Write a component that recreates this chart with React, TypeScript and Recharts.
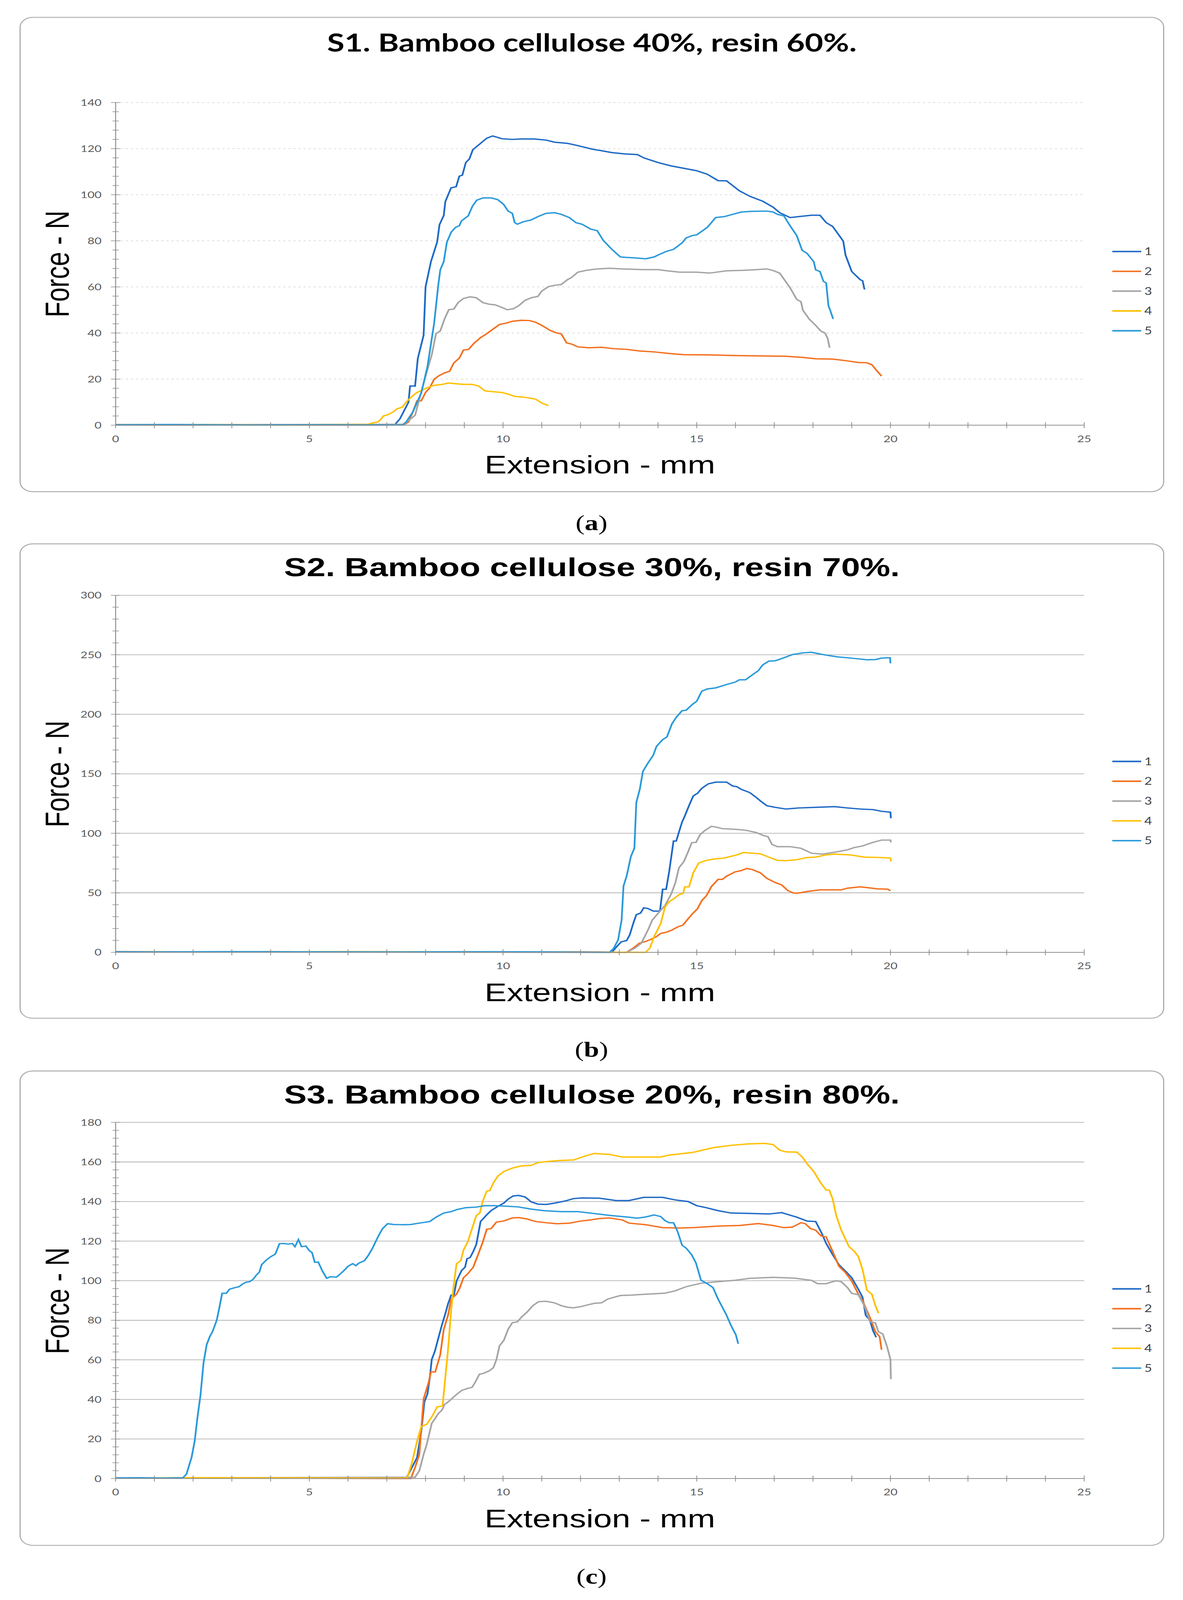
import React from "react";
import { Legend, Line, LineChart, ReferenceLine, XAxis, YAxis } from "recharts";

type Pt = [number, number];

// extension (mm), force (N)
const s1a: Pt[] = [
  [0, 0.2], [2, 0.1], [4, 0.2], [6, 0.1], [7.2, 0.1], [7.34, 2.8], [7.56, 10], [7.6, 17], [7.73, 17], [7.8, 29],
  [7.95, 39], [8.0, 60], [8.14, 71], [8.3, 79.5], [8.36, 87], [8.47, 91], [8.51, 97], [8.66, 103], [8.79, 103.5],
  [8.87, 108], [8.95, 108.5], [9.04, 114], [9.13, 115.5], [9.22, 119.5], [9.4, 122], [9.58, 124.5], [9.73, 125.5],
  [9.83, 125], [9.97, 124.3], [10.24, 124], [10.46, 124.2], [10.8, 124.2], [11.11, 123.7], [11.33, 122.8],
  [11.66, 122.3], [11.88, 121.5], [12.1, 120.6], [12.32, 119.7], [12.54, 119.1], [12.8, 118.3], [13.14, 117.7],
  [13.47, 117.4], [13.63, 116], [14.01, 113.9], [14.34, 112.5], [14.62, 111.6], [15.0, 110.4], [15.27, 108.9],
  [15.55, 106.1], [15.77, 106], [16.1, 101.7], [16.37, 99.3], [16.7, 97.2], [16.97, 94.6], [17.14, 92.2],
  [17.41, 90.1], [17.63, 90.5], [17.96, 91.1], [18.18, 91.1], [18.34, 87.9], [18.51, 86.2], [18.78, 79.9],
  [18.84, 73.8], [19.0, 66.7], [19.22, 63.1], [19.28, 62.7], [19.33, 58.9],
];
const s2a: Pt[] = [
  [0, 0.3], [1, 0.1], [3, 0.2], [5, 0.1], [7.45, 0.2], [7.56, 1.4], [7.67, 5.7], [7.78, 10.6], [7.89, 10.6],
  [8.0, 14.2], [8.11, 16.3], [8.22, 19.9], [8.33, 21.3], [8.49, 22.7], [8.62, 23.4], [8.73, 27], [8.87, 29.1],
  [8.98, 32.6], [9.11, 32.9], [9.26, 35.7], [9.42, 38], [9.58, 39.7], [9.75, 41.8], [9.91, 43.7], [10.08, 44.3],
  [10.24, 45.1], [10.46, 45.5], [10.68, 45.4], [10.84, 44.7], [11.0, 43.3], [11.22, 41.1], [11.39, 40],
  [11.5, 39.7], [11.64, 35.7], [11.77, 35.2], [11.93, 34], [12.21, 33.6], [12.54, 33.8], [12.86, 33.2],
  [13.19, 32.9], [13.52, 32.2], [13.9, 31.8], [14.29, 31.1], [14.67, 30.6], [15.33, 30.5], [15.99, 30.2],
  [16.54, 30.1], [17.3, 29.9], [17.74, 29.4], [18.07, 28.8], [18.51, 28.7], [18.89, 27.9], [19.17, 27.2],
  [19.39, 27.1], [19.52, 26.2], [19.66, 23.4], [19.77, 21.3],
];
const s3a: Pt[] = [
  [0, 0.1], [7.45, 0.4], [7.56, 2], [7.73, 4.3], [7.84, 11.3], [8.0, 21.3], [8.16, 30.5], [8.27, 39.7],
  [8.38, 40.9], [8.49, 46.1], [8.6, 50.1], [8.73, 50.4], [8.84, 53.2], [8.98, 55], [9.15, 55.7], [9.31, 55.3],
  [9.48, 53.2], [9.64, 52.5], [9.8, 52.2], [9.97, 51.1], [10.11, 50.1], [10.26, 50.5], [10.4, 51.8], [10.57, 54.2],
  [10.73, 55.3], [10.9, 55.9], [11.0, 58.2], [11.17, 60.1], [11.33, 60.7], [11.5, 61], [11.66, 63.1], [11.77, 64.1],
  [11.93, 66.4], [12.15, 67.2], [12.43, 67.8], [12.75, 68.1], [13.08, 67.8], [13.63, 67.5], [14.01, 67.5],
  [14.23, 67], [14.56, 66.4], [15.0, 66.4], [15.33, 66], [15.77, 67], [16.21, 67.2], [16.54, 67.5], [16.81, 67.8],
  [16.97, 67.1], [17.14, 66], [17.28, 62.7], [17.41, 59.6], [17.58, 54.6], [17.69, 53.6], [17.74, 49.9],
  [17.9, 46.1], [18.07, 43.3], [18.2, 40.9], [18.31, 40], [18.38, 37.6], [18.43, 33.6],
];
const s4a: Pt[] = [
  [0, 0.2], [2, 0.3], [4, 0.1], [6.52, 0.4], [6.63, 1], [6.77, 1.4], [6.85, 2.6], [6.91, 4], [7.02, 4.5],
  [7.16, 5.7], [7.26, 7.1], [7.4, 7.8], [7.51, 10.2], [7.67, 12.8], [7.78, 14.2], [7.92, 15.3], [8.05, 16.3],
  [8.22, 17.3], [8.44, 17.7], [8.58, 18.3], [8.77, 18], [8.98, 17.7], [9.2, 17.7], [9.37, 17], [9.53, 14.9],
  [9.69, 14.6], [9.97, 14.2], [10.13, 13.5], [10.3, 12.5], [10.57, 12.1], [10.84, 11.3], [11.0, 9.6], [11.17, 8.5],
];
const s5a: Pt[] = [
  [0, 0.2], [1.5, 0.3], [3.5, 0.1], [5.5, 0.2], [7.4, 0.1], [7.5, 1.4], [7.67, 5.7], [7.89, 14], [8.05, 25.5],
  [8.22, 44], [8.33, 61], [8.38, 67.4], [8.47, 71], [8.55, 79.4], [8.66, 83.7], [8.77, 85.8], [8.87, 86.5],
  [8.93, 88.7], [9.1, 90.8], [9.21, 95], [9.32, 97.6], [9.48, 98.6], [9.7, 98.6], [9.86, 97.9], [10.02, 95.7],
  [10.13, 92.9], [10.24, 91.9], [10.3, 87.9], [10.37, 87.2], [10.51, 88.2], [10.73, 89.1], [10.9, 90.5],
  [11.11, 91.9], [11.33, 92.2], [11.5, 91.5], [11.71, 90.1], [11.88, 87.9], [12.04, 87.2], [12.26, 85.1],
  [12.43, 84.4], [12.59, 80.1], [12.81, 76.3], [13.03, 73], [13.19, 72.8], [13.41, 72.6], [13.68, 72.2],
  [13.9, 73], [14.01, 73.9], [14.23, 75.5], [14.4, 76.3], [14.62, 79.1], [14.73, 81.3], [14.89, 82.3], [15.0, 82.6],
  [15.27, 85.8], [15.49, 90.1], [15.71, 90.5], [15.93, 91.5], [16.15, 92.5], [16.43, 92.8], [16.81, 92.9],
  [16.97, 92.5], [17.08, 91.5], [17.25, 90.8], [17.41, 86.5], [17.58, 82.3], [17.72, 75.9], [17.85, 74.5],
  [18.02, 70.9], [18.07, 67.4], [18.18, 66.7], [18.27, 62.4], [18.34, 61.7], [18.4, 51.8], [18.45, 49.6],
  [18.52, 46.1],
];

const s1b: Pt[] = [
  [0, 0.4], [2, 0.2], [4, 0.5], [6, 0.3], [8, 0.4], [10, 0.2], [12.81, 0], [12.94, 5], [13.05, 8.8], [13.19, 9.9],
  [13.27, 14.6], [13.36, 24.2], [13.44, 31.6], [13.55, 33], [13.63, 37.4], [13.74, 36.8], [13.88, 34.6],
  [14.05, 34.6], [14.12, 53], [14.21, 53], [14.29, 68.2], [14.4, 93.5], [14.47, 93.5], [14.62, 109.4],
  [14.69, 114.4], [14.8, 123.2], [14.91, 131.4], [15.02, 133.6], [15.13, 137.8], [15.3, 141.6], [15.49, 143],
  [15.77, 143], [15.93, 139.7], [16.04, 139.1], [16.15, 136.9], [16.37, 134.2], [16.54, 130], [16.67, 126.5],
  [16.81, 123.2], [17.03, 121.8], [17.3, 120.4], [17.63, 121.3], [18.07, 121.8], [18.56, 122.4], [18.89, 121.3],
  [19.22, 120.4], [19.55, 119.9], [19.77, 118.5], [20.0, 117.7], [20.01, 112.7],
];
const s2b: Pt[] = [
  [0, 0.6], [3, 0.3], [6, 0.5], [9, 0.3], [12, 0.4], [13.19, 0], [13.36, 3.6], [13.52, 7.7], [13.68, 9.1],
  [13.82, 11], [13.96, 13.2], [14.07, 15.9], [14.23, 17], [14.36, 18.7], [14.51, 21.4], [14.64, 22.8],
  [14.78, 28.3], [14.89, 32.4], [15.02, 36.6], [15.13, 43.4], [15.25, 47.6], [15.38, 55.3], [15.55, 61.3],
  [15.66, 61.3], [15.77, 64], [15.99, 67.6], [16.15, 68.7], [16.29, 70.4], [16.43, 69.6], [16.64, 66.8],
  [16.81, 62.1], [17.03, 58.6], [17.19, 56.6], [17.36, 51.7], [17.5, 49.8], [17.63, 49.8], [17.85, 51.1],
  [18.18, 52.5], [18.73, 52.5], [18.89, 53.9], [19.22, 55], [19.44, 54.2], [19.66, 53.3], [19.93, 53.1],
  [20.0, 51.7],
];
const s3b: Pt[] = [
  [0, 0.3], [13.19, 0], [13.41, 3.6], [13.57, 7.7], [13.74, 18.7], [13.85, 27], [13.99, 32.4], [14.18, 39.3],
  [14.34, 49], [14.45, 58.6], [14.54, 71], [14.67, 76.4], [14.78, 84.7], [14.87, 92.1], [14.98, 92.4], [15.09, 99],
  [15.22, 102.6], [15.38, 105.9], [15.49, 105.3], [15.66, 103.9], [15.99, 103.4], [16.26, 102.6], [16.54, 100.6],
  [16.7, 98.4], [16.84, 97.1], [16.94, 90.7], [17.08, 88.8], [17.41, 88.8], [17.69, 87.4], [17.96, 83.3],
  [18.23, 82.5], [18.56, 84.1], [18.89, 86.1], [19.06, 88], [19.28, 89.4], [19.55, 92.4], [19.77, 94.3],
  [20.0, 94.3], [20.01, 92.4],
];
const s4b: Pt[] = [
  [0, 0.3], [5, 0.5], [10, 0.4], [13.68, 0], [13.79, 3.6], [13.9, 13.2], [14.07, 24.2], [14.18, 38], [14.29, 42.6],
  [14.4, 44.8], [14.54, 48.4], [14.65, 49.5], [14.69, 55], [14.8, 55], [14.91, 66.8], [15.05, 75], [15.22, 77],
  [15.44, 78.4], [15.71, 79.2], [15.88, 80.6], [16.04, 81.9], [16.21, 83.9], [16.43, 83.3], [16.64, 82.8],
  [16.86, 80], [17.08, 77.3], [17.3, 77], [17.58, 77.8], [17.85, 79.7], [18.07, 80], [18.34, 81.9], [18.56, 82.5],
  [18.95, 81.9], [19.33, 80], [19.71, 79.7], [20.0, 79.2], [20.01, 76.4],
];
const s5b: Pt[] = [
  [0, 0.5], [1, 0.3], [3, 0.6], [5, 0.4], [7, 0.3], [9, 0.5], [11, 0.4], [12.75, 0], [12.86, 3.6], [12.97, 10.4],
  [13.06, 27], [13.11, 55.8], [13.19, 64], [13.3, 80.6], [13.39, 87.4], [13.44, 126], [13.53, 137], [13.61, 152],
  [13.74, 159], [13.88, 165.8], [13.96, 173], [14.12, 178.7], [14.23, 181], [14.36, 192], [14.47, 197.4],
  [14.62, 203], [14.73, 203.5], [14.89, 208.4], [15.0, 211], [15.13, 219.4], [15.27, 221.3], [15.49, 222.2],
  [15.77, 225], [15.99, 227], [16.1, 229], [16.26, 229], [16.43, 233], [16.59, 236.7], [16.7, 241.4],
  [16.86, 244.7], [17.03, 245], [17.25, 247.5], [17.47, 250.2], [17.74, 251.6], [17.96, 252.1], [18.13, 251],
  [18.34, 249.7], [18.62, 248.3], [18.89, 247.5], [19.17, 246.6], [19.39, 245.8], [19.61, 246], [19.77, 247.2],
  [19.99, 247.5], [20.0, 242.8],
];

const s1c: Pt[] = [
  [0, 0.2], [3, 0.3], [6, 0.2], [7.5, 0.2], [7.56, 2.3], [7.67, 6.4], [7.78, 10.6], [7.89, 23.8], [7.97, 38.7],
  [8.05, 42.8], [8.11, 51], [8.16, 60.2], [8.24, 64.3], [8.33, 70.9], [8.42, 77.5], [8.51, 83.3], [8.58, 88.3],
  [8.66, 92.7], [8.73, 92.4], [8.8, 99.8], [8.93, 105.1], [9.02, 106.8], [9.07, 111.1], [9.15, 111.7],
  [9.23, 114.7], [9.31, 118.3], [9.42, 129.9], [9.56, 132.9], [9.69, 135.4], [9.86, 137.5], [10.02, 139.2],
  [10.13, 141.2], [10.26, 142.8], [10.4, 143.1], [10.57, 142.3], [10.73, 139.8], [10.9, 138.7], [11.11, 138.5],
  [11.33, 139.2], [11.61, 140.3], [11.82, 141.5], [12.04, 141.8], [12.48, 141.7], [12.92, 140.5], [13.25, 140.5],
  [13.63, 142.1], [14.12, 142.1], [14.45, 140.8], [14.78, 140], [15.0, 137.9], [15.22, 137], [15.55, 135.4],
  [15.88, 134.2], [16.32, 134], [16.86, 133.7], [17.19, 134.4], [17.36, 133.4], [17.58, 132.1], [17.85, 130.1],
  [18.07, 129.9], [18.23, 123.8], [18.34, 118.8], [18.51, 113.1], [18.67, 108.1], [18.84, 104.8], [19.0, 101.5],
  [19.17, 95.7], [19.28, 91.6], [19.36, 82.5], [19.47, 80], [19.55, 74.7], [19.63, 71.4],
];
const s2c: Pt[] = [
  [0, 0.3], [4, 0.2], [7.62, 0], [7.73, 5.6], [7.84, 12.2], [7.95, 40.3], [8.08, 48.6], [8.14, 53.9],
  [8.25, 53.9], [8.38, 62.6], [8.47, 75.4], [8.58, 82.5], [8.66, 90.7], [8.8, 93.2], [8.88, 96.2], [8.98, 101.5],
  [9.09, 103.5], [9.23, 106.8], [9.37, 113.9], [9.48, 119.7], [9.58, 126], [9.69, 126.3], [9.83, 129.6],
  [10.02, 130.2], [10.24, 131.7], [10.4, 131.9], [10.62, 131.2], [10.84, 129.9], [11.11, 129.3], [11.39, 128.8],
  [11.72, 129.1], [11.99, 130.1], [12.26, 130.7], [12.48, 131.4], [12.75, 131.7], [13.08, 130.7], [13.25, 129.1],
  [13.68, 128.3], [14.12, 126.8], [14.56, 126.6], [15.0, 126.9], [15.55, 127.6], [16.1, 127.9], [16.59, 128.9],
  [16.97, 127.9], [17.25, 126.8], [17.47, 127.1], [17.69, 129.3], [17.8, 128.8], [17.94, 126.3], [18.07, 125.5],
  [18.21, 122.6], [18.34, 122.1], [18.51, 114.7], [18.67, 107.3], [18.84, 104], [19.0, 99.8], [19.17, 93.2],
  [19.28, 89.9], [19.39, 85], [19.5, 80], [19.61, 74.2], [19.72, 71.7], [19.77, 65.1],
];
const s3c: Pt[] = [
  [0, 0.2], [7.73, 0.7], [7.84, 4], [7.95, 12.2], [8.03, 17.2], [8.11, 23.8], [8.16, 27.9], [8.25, 30.4],
  [8.33, 32.9], [8.42, 34.5], [8.49, 37.4], [8.6, 39], [8.77, 42], [8.93, 44.5], [9.09, 45.6], [9.2, 46.1],
  [9.28, 48.6], [9.39, 52.7], [9.5, 53.2], [9.64, 54.4], [9.75, 56], [9.83, 60.2], [9.91, 67.1], [10.02, 69.8],
  [10.13, 75.4], [10.24, 78.8], [10.37, 79.2], [10.48, 81.7], [10.62, 84.1], [10.77, 87.4], [10.92, 89.4],
  [11.11, 89.6], [11.33, 88.8], [11.5, 87.4], [11.66, 86.6], [11.82, 86.3], [12.01, 86.9], [12.21, 87.9],
  [12.37, 88.6], [12.54, 88.8], [12.7, 90.7], [12.86, 91.6], [13.03, 92.5], [13.3, 92.7], [13.63, 93.1],
  [14.18, 93.7], [14.45, 94.9], [14.73, 97], [15.11, 98.7], [15.55, 99.5], [15.99, 100.2], [16.37, 101.2],
  [16.97, 101.7], [17.52, 101.3], [17.96, 100.2], [18.12, 98.5], [18.34, 98.5], [18.6, 100], [18.73, 99.5],
  [18.89, 96.5], [19.0, 93.6], [19.17, 92.9], [19.3, 88.3], [19.39, 84.1], [19.47, 79.2], [19.61, 78.7],
  [19.69, 74.2], [19.8, 73.1], [19.91, 66.8], [20.0, 60.2], [20.01, 50.2],
];
const s4c: Pt[] = [
  [0, 0.2], [2, 0.4], [5, 0.3], [7.45, 0.2], [7.53, 0.7], [7.64, 7.3], [7.78, 18.8], [7.89, 26.3], [8.03, 27.4],
  [8.19, 32.1], [8.3, 36.2], [8.44, 36.7], [8.51, 51.1], [8.58, 65.1], [8.66, 85], [8.73, 98.2], [8.8, 108.6],
  [8.91, 110.1], [8.98, 115.5], [9.09, 119.7], [9.2, 126.3], [9.31, 132.9], [9.4, 134.2], [9.48, 140.3],
  [9.58, 145.3], [9.66, 145.6], [9.75, 149.4], [9.86, 152.7], [10.02, 155.2], [10.24, 156.9], [10.46, 158],
  [10.73, 158.3], [10.9, 159.7], [11.17, 160.3], [11.44, 160.7], [11.82, 161], [11.98, 162.1], [12.2, 163.5],
  [12.37, 164.3], [12.75, 163.8], [13.08, 162.5], [14.07, 162.5], [14.29, 163.5], [14.89, 164.8], [15.22, 166.3],
  [15.44, 167.3], [15.88, 168.4], [16.32, 169.1], [16.75, 169.4], [16.97, 168.8], [17.14, 166], [17.3, 165.1],
  [17.58, 165], [17.72, 162.6], [17.85, 159], [18.02, 155.2], [18.2, 149.4], [18.34, 145.8], [18.42, 145.8],
  [18.51, 141.2], [18.6, 132.9], [18.73, 125.5], [18.93, 117.2], [19.06, 115], [19.17, 112.2], [19.28, 105.6],
  [19.39, 95.2], [19.52, 93.2], [19.61, 87.4], [19.69, 83.6],
];
const s5c: Pt[] = [
  [0, 0.3], [0.6, 0.4], [1.2, 0.2], [1.74, 0.4], [1.83, 2.3], [1.96, 10.6], [2.04, 18.8], [2.12, 32], [2.19, 42],
  [2.27, 58.5], [2.35, 67.6], [2.43, 71.7], [2.5, 74.2], [2.61, 80], [2.68, 86.6], [2.75, 93.6], [2.86, 93.7],
  [2.94, 95.7], [3.08, 96.5], [3.19, 97], [3.27, 98.2], [3.36, 99.2], [3.46, 99.5], [3.55, 100.7], [3.63, 102.8],
  [3.71, 104.3], [3.77, 108.1], [3.9, 110.6], [4.01, 112.2], [4.12, 113.4], [4.23, 118.7], [4.34, 118.8],
  [4.45, 118.5], [4.56, 118.8], [4.63, 117.2], [4.72, 120.8], [4.8, 117.2], [4.91, 117.5], [5.0, 115.2],
  [5.07, 114.2], [5.14, 109.3], [5.23, 109.4], [5.34, 104.8], [5.45, 101.2], [5.54, 102], [5.7, 101.8],
  [5.81, 103.6], [5.92, 105.6], [6.0, 107.3], [6.12, 108.6], [6.2, 107.6], [6.28, 108.9], [6.42, 110.1],
  [6.52, 112.7], [6.63, 116.4], [6.78, 122.5], [6.89, 126.3], [7.02, 128.8], [7.18, 128.4], [7.4, 128.3],
  [7.62, 128.4], [7.84, 129.1], [8.11, 129.9], [8.27, 132.1], [8.47, 134.2], [8.66, 134.9], [8.82, 136],
  [9.04, 136.9], [9.31, 137.2], [9.53, 137.9], [9.8, 137.9], [10.02, 137.7], [10.39, 137.3], [10.72, 136.2],
  [11.05, 135.4], [11.49, 134.9], [11.93, 134.9], [12.37, 133.9], [12.81, 132.9], [13.25, 132.1], [13.46, 131.6],
  [13.68, 132.2], [13.9, 133.2], [14.07, 132.4], [14.18, 130.4], [14.29, 129.3], [14.4, 129.3], [14.51, 124.6],
  [14.62, 118], [14.73, 116.4], [14.87, 113.1], [14.98, 108.9], [15.11, 100.2], [15.27, 98.5], [15.42, 96.5],
  [15.55, 90.7], [15.66, 86.6], [15.77, 82.5], [15.88, 77.5], [16.01, 72.6], [16.07, 68.1],
];

const seriesNames = ["1", "2", "3", "4", "5"];
const seriesColors = ["#1F6AC6", "#F4701F", "#A5A5A5", "#FFC000", "#2A9ADB"];
const xTicks = Array.from({ length: 26 }, (_, i) => i);

const TICK_FONT = "Lato, 'Noto Sans', sans-serif";
const ARIAL = "'Liberation Sans', Arial, sans-serif";
const AXIS_GREY = "#8F8F8F";

type PanelCfg = {
  title: string;
  titleFont: string;
  titleSize: number;
  titleY: number;
  label: string;
  top: number;
  plotTop: number;
  plotBottom: number;
  yMax: number;
  yMajor: number;
  yMinor: number;
  gridDashed: boolean;
  legendTop: number;
  xTitleY: number;
  series: Pt[][];
};

const panels: PanelCfg[] = [
  {
    title: "S1. Bamboo cellulose 40%, resin 60%.",
    titleFont: "Lato, sans-serif",
    titleSize: 81,
    titleY: 83,
    label: "a",
    top: 56,
    plotTop: 284,
    plotBottom: 1354,
    yMax: 140,
    yMajor: 20,
    yMinor: 4,
    gridDashed: true,
    legendTop: 778,
    xTitleY: 1484,
    series: [s1a, s2a, s3a, s4a, s5a],
  },
  {
    title: "S2. Bamboo cellulose 30%, resin 70%.",
    titleFont: ARIAL,
    titleSize: 87,
    titleY: 78,
    label: "b",
    top: 1802,
    plotTop: 172,
    plotBottom: 1356,
    yMax: 300,
    yMajor: 50,
    yMinor: 10,
    gridDashed: false,
    legendTop: 723,
    xTitleY: 1488,
    series: [s1b, s2b, s3b, s4b, s5b],
  },
  {
    title: "S3. Bamboo cellulose 20%, resin 80%.",
    titleFont: ARIAL,
    titleSize: 87,
    titleY: 78,
    label: "c",
    top: 3550,
    plotTop: 172,
    plotBottom: 1353,
    yMax: 180,
    yMajor: 20,
    yMinor: 4,
    gridDashed: false,
    legendTop: 724,
    xTitleY: 1485,
    series: [s1c, s2c, s3c, s4c, s5c],
  },
];

const PAGE_W = 3029;
const PAGE_H = 5298;
const W = 2931;
const H = 1576;
const PLOT_LEFT = 246;
const PLOT_RIGHT = 2726;
const Y_AXIS_W = 150;
const X_AXIS_H = 200;
const ROW = 65.7;

function XTick(props: any) {
  const { x, y, payload } = props;
  const v = payload.value;
  return (
    <g>
      <line x1={x} x2={x} y1={y - 10} y2={y + 10} stroke={AXIS_GREY} strokeWidth={2} />
      {v % 5 === 0 && (
        <text x={x} y={y + 56} textAnchor="middle" fontFamily={TICK_FONT} fontSize={31} fill="#595959">
          {v}
        </text>
      )}
    </g>
  );
}

function makeYTick(major: number) {
  return (props: any) => {
    const { x, y, payload } = props;
    const v = payload.value;
    const isMajor = v % major === 0;
    const half = isMajor ? 12 : 8;
    return (
      <g>
        <line x1={x - half} x2={x + half} y1={y} y2={y} stroke={AXIS_GREY} strokeWidth={2} />
        {isMajor && (
          <text x={x - 36} y={y + 11} textAnchor="end" fontFamily={TICK_FONT} fontSize={31} fill="#595959">
            {v}
          </text>
        )}
      </g>
    );
  };
}

function LegendBox(props: any) {
  const items = props.payload || [];
  return (
    <svg width={150} height={340} style={{ display: "block" }}>
      {items.map((it: any, i: number) => (
        <g key={it.value}>
          <line x1={8} x2={82} y1={30 + i * ROW} y2={30 + i * ROW} stroke={it.color} strokeWidth={5} />
          <text x={90} y={30 + i * ROW + 12} fontFamily={TICK_FONT} fontSize={34} fill="#404040">
            {it.value}
          </text>
        </g>
      ))}
    </svg>
  );
}

function Panel({ cfg }: { cfg: PanelCfg }) {
  const yTicks: number[] = [];
  for (let v = 0; v <= cfg.yMax; v += cfg.yMinor) yTicks.push(v);
  const gridValues: number[] = [];
  for (let v = cfg.yMajor; v <= cfg.yMax; v += cfg.yMajor) gridValues.push(v);
  const margin = {
    top: cfg.plotTop,
    right: W - PLOT_RIGHT,
    bottom: H - cfg.plotBottom - X_AXIS_H,
    left: PLOT_LEFT - Y_AXIS_W,
  };
  const plotMid = (cfg.plotTop + cfg.plotBottom) / 2;

  return (
    <div style={{ position: "absolute", left: 50, top: cfg.top, width: W, height: H }}>
      <div
        style={{
          position: "absolute",
          inset: 0,
          border: "3px solid #ADADAD",
          borderRadius: 34,
          boxSizing: "border-box",
          background: "#fff",
        }}
      />
      <div style={{ position: "absolute", left: 0, top: 0 }}>
        <LineChart width={W} height={H} margin={margin}>
          <XAxis
            dataKey="x"
            type="number"
            domain={[0, 25]}
            ticks={xTicks}
            interval={0}
            tickSize={0}
            tickMargin={0}
            tickLine={false}
            axisLine={{ stroke: AXIS_GREY, strokeWidth: 2.5 }}
            height={X_AXIS_H}
            tick={(p: any) => <XTick {...p} />}
          />
          <YAxis
            type="number"
            domain={[0, cfg.yMax]}
            ticks={yTicks}
            interval={0}
            tickSize={0}
            tickMargin={0}
            tickLine={false}
            axisLine={{ stroke: AXIS_GREY, strokeWidth: 2.5 }}
            width={Y_AXIS_W}
            tick={makeYTick(cfg.yMajor)}
          />
          {gridValues.map((v) => (
            <ReferenceLine
              key={v}
              y={v}
              stroke={cfg.gridDashed ? "#D4D4D4" : "#A8A8A8"}
              strokeWidth={2}
              strokeDasharray={cfg.gridDashed ? "6 7" : undefined}
            />
          ))}
          {cfg.series.map((pts, i) => (
            <Line
              key={seriesNames[i]}
              name={seriesNames[i]}
              data={pts.map(([x, y]) => ({ x, y }))}
              dataKey="y"
              type="linear"
              stroke={seriesColors[i]}
              strokeWidth={4.5}
              dot={false}
              activeDot={false}
              isAnimationActive={false}
            />
          ))}
          <Legend
            layout="vertical"
            align="center"
            verticalAlign="middle"
            content={<LegendBox />}
            wrapperStyle={{ left: 2790, top: cfg.legendTop - 30, width: 150, height: 340 }}
          />
        </LineChart>
      </div>
      <div
        style={{
          position: "absolute",
          left: 0,
          width: W,
          top: cfg.titleY - cfg.titleSize / 2,
          lineHeight: `${cfg.titleSize}px`,
          fontSize: cfg.titleSize,
          fontWeight: 700,
          fontFamily: cfg.titleFont,
          textAlign: "center",
          color: "#000",
          whiteSpace: "nowrap",
        }}
      >
        {cfg.title}
      </div>
      <div
        style={{
          position: "absolute",
          left: PLOT_LEFT,
          width: PLOT_RIGHT - PLOT_LEFT,
          top: cfg.xTitleY - 42,
          lineHeight: "85px",
          fontSize: 85,
          fontFamily: ARIAL,
          textAlign: "center",
          color: "#000",
          whiteSpace: "nowrap",
        }}
      >
        Extension - mm
      </div>
      <div
        style={{
          position: "absolute",
          left: 96 - 400,
          width: 800,
          top: plotMid - 42,
          lineHeight: "85px",
          fontSize: 85,
          fontFamily: ARIAL,
          textAlign: "center",
          color: "#000",
          whiteSpace: "nowrap",
          transform: "rotate(-90deg)",
        }}
      >
        Force - N
      </div>
    </div>
  );
}

export default function App() {
  // the capture can be shorter than the full figure; squeeze vertically so all three panels stay visible
  const vh = typeof window !== "undefined" ? window.innerHeight : PAGE_H;
  const k = vh > 0 && vh < PAGE_H ? (vh - 6) / PAGE_H : 1;

  return (
    <div
      style={{
        position: "absolute",
        left: 0,
        top: 0,
        width: PAGE_W,
        height: PAGE_H,
        background: "#fff",
        transform: k < 1 ? `scaleY(${k})` : undefined,
        transformOrigin: "0 0",
      }}
    >
      {panels.map((cfg) => (
        <React.Fragment key={cfg.label}>
          <Panel cfg={cfg} />
          <div
            style={{
              position: "absolute",
              left: 0,
              width: PAGE_W,
              top: cfg.top + H + 103 - 36,
              lineHeight: "72px",
              fontSize: 70,
              fontFamily: "'Liberation Serif', 'DejaVu Serif', serif",
              textAlign: "center",
              color: "#000",
            }}
          >
            (<b>{cfg.label}</b>)
          </div>
        </React.Fragment>
      ))}
    </div>
  );
}
